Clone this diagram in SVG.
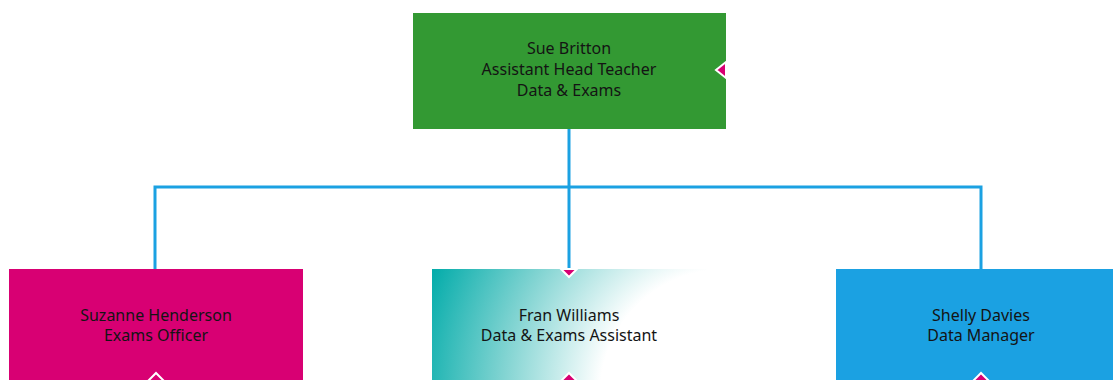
<svg xmlns="http://www.w3.org/2000/svg" width="1113" height="380" viewBox="0 0 1113 380">
  <style>
    .label { font-family: "Noto Sans", "Open Sans", sans-serif; font-size: 16px; fill: #141414; text-anchor: middle; }
    .conn { fill: none; stroke: #1ba1e2; stroke-width: 3; }
    .tri { fill: #d80073; stroke: #ffffff; stroke-width: 2; stroke-linejoin: miter; }
  </style>
  <defs>
    <!-- fades from teal at the top-left corner to white towards the bottom-right -->
    <radialGradient id="tealFade" gradientUnits="userSpaceOnUse" cx="725" cy="394" r="320">
      <stop offset="0" stop-color="#ffffff"/>
      <stop offset="0.39" stop-color="#ffffff"/>
      <stop offset="0.7" stop-color="#7fd3d1"/>
      <stop offset="1" stop-color="#00aba9"/>
    </radialGradient>
  </defs>
  <rect width="1113" height="380" fill="#ffffff"/>

  <!-- connectors -->
  <g id="connectors">
    <path class="conn" d="M569,129 V269"/>
    <path class="conn" d="M155,269 V187 H981 V269"/>
  </g>

  <!-- top node -->
  <g id="node-sue">
    <rect x="413" y="13" width="313" height="116" fill="#339933"/>
    <text class="label" x="569" y="54">Sue Britton</text>
    <text class="label" x="569" y="75">Assistant Head Teacher</text>
    <text class="label" x="569" y="96">Data &amp; Exams</text>
    <path class="tri" d="M726,62 L716,70 L726,78 Z"/>
  </g>

  <!-- left node -->
  <g id="node-suzanne">
    <rect x="9" y="269" width="294" height="116" fill="#d80073"/>
    <text class="label" x="156" y="321">Suzanne Henderson</text>
    <text class="label" x="156" y="341">Exams Officer</text>
    <path class="tri" d="M146,383 L156,373 L166,383 Z"/>
  </g>

  <!-- middle node -->
  <g id="node-fran">
    <rect x="432" y="269" width="275" height="116" fill="url(#tealFade)"/>
    <text class="label" x="569" y="321">Fran Williams</text>
    <text class="label" x="569" y="341">Data &amp; Exams Assistant</text>
    <path class="tri" d="M561,269 L569,277 L577,269 Z"/>
    <path class="tri" d="M559,383 L569,373 L579,383 Z"/>
  </g>

  <!-- right node -->
  <g id="node-shelly">
    <rect x="836" y="269" width="290" height="116" fill="#1ba1e2"/>
    <text class="label" x="981" y="321">Shelly Davies</text>
    <text class="label" x="981" y="341">Data Manager</text>
    <path class="tri" d="M971,383 L981,373 L991,383 Z"/>
  </g>
</svg>
